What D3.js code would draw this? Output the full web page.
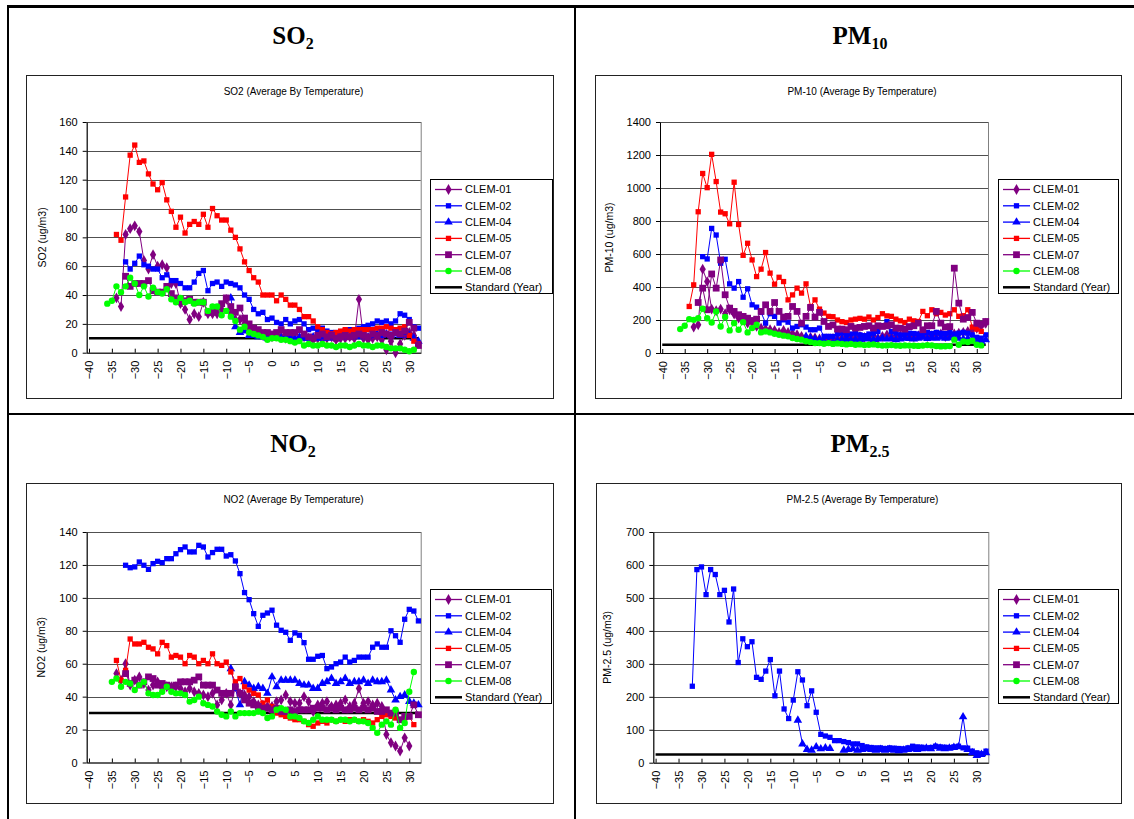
<!DOCTYPE html>
<html>
<head>
<meta charset="utf-8">
<script src="https://cdn.jsdelivr.net/npm/d3@7"></script>
<style>
body { margin: 0; background: #fff; }
svg { display: block; font-family: "Liberation Sans", Arial, sans-serif; }
.title { font-family: "Liberation Serif", "Times New Roman", serif; font-weight: bold; font-size: 25px; }
</style>
</head>
<body>
<svg id="page" width="1134" height="819"></svg>
<script>
const _ = null;

// categories (temperature, deg C) used by every series below
const temps = [-36,-35,-34,-33,-32,-31,-30,-29,-28,-27,-26,-25,-24,-23,-22,-21,-20,-19,-18,-17,-16,-15,-14,-13,-12,-11,-10,-9,-8,-7,-6,-5,-4,-3,-2,-1,0,1,2,3,4,5,6,7,8,9,10,11,12,13,14,15,16,17,18,19,20,21,22,23,24,25,26,27,28,29,30,31,32];
const xTicks = [-40,-35,-30,-25,-20,-15,-10,-5,0,5,10,15,20,25,30];
const seriesNames = ["CLEM-01","CLEM-02","CLEM-04","CLEM-05","CLEM-07","CLEM-08"];

// SO2
const so2Ticks = [0,20,40,60,80,100,120,140,160];
const so2Std = 10;
const so2_01 = [_,_, 38,32,82,86,88,84,64,58,68,60, 61,59,48,48,34,30,23,27,25,35, 27,27,27,30,37,27,23,23,20,17, 14,13,12,11,11,12,11,10,11,9, 10,11,10,9,10,9,10,11,9,10, 10,11,10,37,10,9,10,11,9,2, 8,0,6,12,14,12, _];
const so2_02 = [_,_,_,_, 63,58,62,67,61,60,58,58,52,54, 50,50,48,45,45,49,55,57,43,48, 49,46,49,48,47,45,40,37,30,27, 28,23,24,21,20,23,20,22,23,20, 16,17,15,17,15,14,14,14,15,16, 16,17,18,19,20,22,21,22,20,22, 27,26,23,18,17];
const so2_04 = [_,_,_,_,_,_,_,_,_,_, _,_,_,_,_,_,_,_,_,_, _,_,_,_,_,_,_, 38,18,14,15,12,12,11,11,10,10, 11,10,11,10,10,11,10,10,11,10, 11,10,11,10,11,12,11,12,11,12, 11,12,13,12,13,12,13,12,14,12, 10,8];
const so2_05 = [_,_, 82,78,108,137,144,132,133,124,117,113, 118,106,98,87,94,83,89,91,89,96, 87,100,95,92,92,85,80,72,63,57, 52,49,40,40,40,36,40,37,33,33, 30,25,25,22,18,16,14,13,14,15, 16,15,16,16,16,16,16,17,17,18, 17,16,17,18,12,8,6];
const so2_07 = [_,_,_,_, 53,46,48,48,48,50,43,42,42,46, 41,38,37,36,37,35,35,35,28,28, 30,34,38,32,28,31,24,20,17,16, 14,14,13,14,16,14,14,14,16,13, 11,10,12,13,11,12,10,11,12,11, 12,13,12,11,13,12,14,13,12,14, 13,15,21,17,5];
const so2_08 = [34,36,46,42,46,52,48,40,46,39, 45,42,41,44,37,35,38,35,36,34, 35,35,29,32,32,26,29,25,22,16, 18,14,13,12,11,9,10,10,9,9, 8,7,8,5,6,5,5,6,5,5, 4,5,5,4,5,6,5,5,4,5, 5,4,3,3,3,2,1,2, _];

// PM10
const pm10Ticks = [0,200,400,600,800,1000,1200,1400];
const pm10Std = 50;
const pm10_01 = [_,_,_, 157,171,508,433,266,256,266,238,262,236, 211,201,181,185,161,151,145,141,137,125, 137,125,117,111,101,91,95,91,85,81, 85,88,85,90,95,88,92,100,95,98, 105,90,100,110,100,95,105,110,100,98, 105,110,100,105,110,115,100,105,115,120, 125,130,140,150,165,180];
const pm10_02 = [_,_,_,_,_, 584,570,755,715,544,568,419,393,433,338, 389,292,278,246,181,238,222,181,201,187, 151,161,171,157,141,141,151,101,101,100, 115,120,110,115,120,110,105,115,120,130, 165,190,130,120,110,115,120,118,115,120, 125,118,125,120,118,125,115,120,125,120, 110,95,90,110];
const pm10_04 = [_,_,_,_,_,_,_,_,_,_, _,_,_,_,_,_,_,_,_,_, _,_,_,_,_,_,_,_, 100,90,85,80,70,65,60,75,80,85, 78,82,80,85,88,82,85,90,85,88, 80,85,90,88,85,90,95,88,92,90, 95,90,92,95,90,85,88,80,75,70, 80];
const pm10_05 = [_,_, 282,413,856,1088,1002,1204,1039,854,844,783, 1035,779,592,665,564,463,508,609,484,417, 459,433,322,352,393,363,419,282,322,266, 242,222,220,200,190,185,200,205,210,205, 218,200,215,238,225,222,205,195,185,205, 195,191,252,226,262,238,246,230,238,262, 222,226,262,157,145,131, _];
const pm10_07 = [_,_,_,_, 306,393,262,479,393,564,353,272,252,232, 222,211,197,205,252,292,252,306,252,218, 222,282,252,181,222,276,218,246,191,161, 170,145,145,141,161,151,155,161,165,151, 165,161,165,171,151,150,145,160,165,181, 141,165,165,252,181,157,160,514,302,205, 215,246,181,175,191];
const pm10_08 = [145,165,205,201,211,268,211,185,252,161, 218,137,181,141,187,125,151,171,125,131, 125,117,111,105,101,91,85,81,71,66, 60,60,56,60,55,58,55,52,55,50, 52,48,50,52,48,45,46,48,45,44, 46,45,44,43,45,48,46,42,40,41, 42,81,50,70,66,75,50,46, _];

// NO2
const no2Ticks = [0,20,40,60,80,100,120,140];
const no2Std = 30;
const no2_01 = [_,_, 54,50,60,47,50,52,48,44,47,49, 45,46,46,46,45,43,45,43,42,41, 40,42,35,38,42,35,46,42,41,40, 37,35,35,34,34,37,38,41,37,36, 36,40,37,31,35,36,37,34,35,36, 38,34,36,45,36,37,35,36,34,17, 12,10,7,15,10, _,_];
const no2_02 = [_,_,_,_, 119.8,118.3,118.8,121.8,119.8,117.3,120.8,122.2,121.4,123.8, 123.8,126.8,129.3,130.9,127.9,127.9,131.9,130.9,124.8,127.5, 129.5,129.5,125.4,126.2,122.4,114.7,103.2,98.9,90.4,82.7, 89.4,90.8,92.5,83.4,80.3,79.1,74.2,78.7,77.3,72.8, 62.7,62.7,64.5,65,57,58,60,61,64,61, 62,64,64,64,70,72,70,70,80,77, 73,87,93,92,86];
const no2_04 = [_,_,_,_,_,_,_,_,_,_, _,_,_,_,_,_,_,_,_,_, _,_,_,_,_,_,_, 57,45,35,49,47,45,46,45,42,52, 46,50,50,50,50,48,47,47,45,45, 48,49,51,48,49,51,48,49,49,50, 48,50,49,49,50,44,38,40,41,37, 36,35];
const no2_05 = [_,_, 62,50,56,75,72,72,73,70,69,66, 73,71,64,65,64,60,65,64,60,62, 60,66,60,59,61,55,49,51,46,44, 42,41,36,38,34,30,29,28,27,26, 26,25,23,22,24,25,24,26,25,26, 25,26,26,25,26,25,24,26,28,29, 28,27,26,27,28,23, _];
const no2_07 = [_,_,_,_, 54,48,50,47,49,52,51,47,48,47, 46,47,49,49,49,50,52,47,47,47, 44,42,42,42,46,42,38,36,35,34, 33,33,32,33,31,31,32,31,32,32, 32,33,33,33,32,33,32,33,32,32, 33,32,33,32,33,31,31,32,30,30, 26,28,28,35,29];
const no2_08 = [_, 49,51,46,49,48,44,47,49,42,41, 41,43,46,43,42,42,41,37,38,40, 36,35,34,31,29,28,31,28,30,30, 30,30,31,30,27,28,32,33,32,28, 28,27,25,24,26,28,26,26,26,25, 26,26,25,26,25,25,24,21,18,23, 25,23,32,21,24,43,55, _];

// PM2.5 (only CLEM-02 and CLEM-04 report)
const pm25Ticks = [0,100,200,300,400,500,600,700];
const pm25Std = 25;
const pm25_02 = [_,_,_,_, 232,586,594,510,586,571,510,523,427,527, 304,376,352,367,259,253,278,313,203,278, 163,134,190,276,251,173,218,153,86,81, 77,67,67,64,61,57,57,52,48,46, 45,45,43,45,44,43,42,45,50,48, 47,45,46,50,48,47,46,48,50,45, 44,35,30,27,35];
const pm25_04 = [_,_,_,_,_,_,_,_,_,_, _,_,_,_,_,_,_,_,_,_, _,_,_,_,_,_,_, 129,57,40,38,48,42,45,43,_,_, 38,40,42,38,40,42,40,38,40,38, 40,38,36,38,40,42,40,42,44,42, 48,44,42,44,46,48,139,40,30,22, 25,30];

const styles = [
  { color: "#800080", shape: d3.symbolDiamond, size: 34 },
  { color: "#0000ff", shape: d3.symbolSquare, size: 28 },
  { color: "#0000ff", shape: d3.symbolTriangle, size: 32 },
  { color: "#ff0000", shape: d3.symbolSquare, size: 28 },
  { color: "#800080", shape: d3.symbolSquare, size: 46 },
  { color: "#00ff00", shape: d3.symbolCircle, size: 32 }
];

const svg = d3.select("#page");

// table frame
svg.append("line").attr("x1", 7).attr("x2", 1134).attr("y1", 6.5).attr("y2", 6.5).attr("stroke", "#000").attr("stroke-width", 3);
svg.append("line").attr("x1", 8).attr("x2", 8).attr("y1", 5).attr("y2", 819).attr("stroke", "#000").attr("stroke-width", 2);
svg.append("line").attr("x1", 575).attr("x2", 575).attr("y1", 5).attr("y2", 819).attr("stroke", "#000").attr("stroke-width", 2);
svg.append("line").attr("x1", 7).attr("x2", 1134).attr("y1", 414).attr("y2", 414).attr("stroke", "#000").attr("stroke-width", 2);

function drawTitle(cx, cy, main, sub) {
  const t = svg.append("text").attr("class", "title").attr("x", cx).attr("y", cy).attr("text-anchor", "middle");
  t.append("tspan").text(main);
  t.append("tspan").attr("dy", 5).style("font-size", "16px").text(sub);
}

function drawPanel(p) {
  const [bx, by, bw, bh] = p.box;
  const [px, py, pw, ph] = p.plot;
  const g = svg.append("g").attr("transform", "translate(" + bx + "," + by + ")");
  g.append("rect").attr("x", 0.5).attr("y", 0.5).attr("width", bw).attr("height", bh)
    .attr("fill", "#fff").attr("stroke", "#222");
  g.append("text").attr("x", bw / 2 + 4).attr("y", 20).attr("text-anchor", "middle")
    .style("font-size", "10px").text(p.sub);

  const x = d3.scaleLinear().domain([-40.5, 32.5]).range([0, pw]);
  const y = d3.scaleLinear().domain([0, p.yTicks[p.yTicks.length - 1]]).range([ph, 0]);
  const pg = g.append("g").attr("transform", "translate(" + px + "," + py + ")");

  pg.append("rect").attr("x", 0.5).attr("y", 0.5).attr("width", pw).attr("height", ph)
    .attr("fill", "#fff").attr("stroke", "#808080");

  // gridlines
  pg.selectAll(".grid").data(p.yTicks.slice(1)).enter().append("line")
    .attr("class", "grid")
    .attr("x1", 0).attr("x2", pw)
    .attr("y1", d => Math.round(y(d)) + 0.5).attr("y2", d => Math.round(y(d)) + 0.5)
    .attr("stroke", "#505050");

  // X Axis
  const xa = pg.append("g").attr("transform", "translate(0," + ph + ")")
    .call(d3.axisBottom(x).tickValues(xTicks).tickSizeInner(-4).tickSizeOuter(0));
  xa.select(".domain").attr("stroke", "#000");
  xa.selectAll("text")
    .attr("transform", "rotate(-90)")
    .attr("x", -8).attr("y", 0).attr("dy", "0.35em")
    .style("text-anchor", "end")
    .style("font-size", "11px")
    .style("font-family", "'Liberation Sans', Arial, sans-serif");

  // Y Axis
  const ya = pg.append("g")
    .call(d3.axisLeft(y).tickValues(p.yTicks).tickSize(4).tickSizeOuter(0).tickPadding(5).tickFormat(d3.format("d")));
  ya.select(".domain").attr("stroke", "#000");
  ya.selectAll("text").style("font-size", "11px")
    .style("font-family", "'Liberation Sans', Arial, sans-serif");

  pg.append("text")
    .attr("transform", "translate(" + p.yLabelX + "," + (ph / 2) + ") rotate(-90)")
    .attr("text-anchor", "middle").style("font-size", "10.5px").text(p.yLabel);

  // Standard line
  pg.append("line")
    .attr("x1", x(-40)).attr("x2", x(32))
    .attr("y1", y(p.std)).attr("y2", y(p.std))
    .attr("stroke", "#000").attr("stroke-width", 2.5);

  const line = d3.line()
    .defined(d => d.v != null)
    .x(d => x(d.t)).y(d => y(d.v));

  p.series.forEach((vals, i) => {
    if (!vals) return;
    const st = styles[i];
    const pts = temps.map((t, k) => ({ t: t, v: vals[k] }));
    pg.append("path").datum(pts)
      .attr("fill", "none").attr("stroke", st.color).attr("stroke-width", 1)
      .attr("d", line);
    pg.selectAll(".m" + i).data(pts.filter(d => d.v != null)).enter().append("path")
      .attr("class", "m" + i)
      .attr("transform", d => "translate(" + x(d.t) + "," + y(d.v) + ")")
      .attr("d", d3.symbol().type(st.shape).size(st.size))
      .attr("fill", st.color);
  });

  // Legend
  const [lx, ly, lw, lh] = p.legend;
  const lg = g.append("g").attr("transform", "translate(" + lx + "," + ly + ")");
  lg.append("rect").attr("x", 0.5).attr("y", 0.5).attr("width", lw).attr("height", lh)
    .attr("fill", "#fff").attr("stroke", "#000");
  seriesNames.forEach((name, i) => {
    const st = styles[i];
    const yy = 10.5 + i * 16.3;
    lg.append("line").attr("x1", 5).attr("x2", 32).attr("y1", yy).attr("y2", yy)
      .attr("stroke", st.color).attr("stroke-width", 1.3);
    lg.append("path").attr("transform", "translate(18.5," + yy + ")")
      .attr("d", d3.symbol().type(st.shape).size(st.size)).attr("fill", st.color);
    lg.append("text").attr("x", 35).attr("y", yy).attr("dy", "0.35em")
      .style("font-size", "11px").text(name);
  });
  const ys = 10.5 + 6 * 16.3;
  lg.append("line").attr("x1", 5).attr("x2", 32).attr("y1", ys).attr("y2", ys)
    .attr("stroke", "#000").attr("stroke-width", 2.5);
  lg.append("text").attr("x", 35).attr("y", ys).attr("dy", "0.35em")
    .style("font-size", "11px").text("Standard (Year)");
}

drawTitle(293, 44, "SO", "2");
drawTitle(860, 44, "PM", "10");
drawTitle(293, 452, "NO", "2");
drawTitle(860, 452, "PM", "2.5");

drawPanel({
  box: [26, 75, 527, 323], plot: [60.7, 47, 334, 230.7], legend: [404, 104, 122, 114],
  sub: "SO2 (Average By Temperature)", yLabel: "SO2 (ug/m3)", yLabelX: -41,
  yTicks: so2Ticks, std: so2Std,
  series: [so2_01, so2_02, so2_04, so2_05, so2_07, so2_08]
});
drawPanel({
  box: [595, 75, 526, 323], plot: [65, 47, 328, 231], legend: [403, 104, 120, 114],
  sub: "PM-10 (Average By Temperature)", yLabel: "PM-10 (ug/m3)", yLabelX: -47,
  yTicks: pm10Ticks, std: pm10Std,
  series: [pm10_01, pm10_02, pm10_04, pm10_05, pm10_07, pm10_08]
});
drawPanel({
  box: [26, 483, 527, 320], plot: [60.7, 49, 334, 230.5], legend: [404, 106, 121, 114],
  sub: "NO2 (Average By Temperature)", yLabel: "NO2 (ug/m3)", yLabelX: -42,
  yTicks: no2Ticks, std: no2Std,
  series: [no2_01, no2_02, no2_04, no2_05, no2_07, no2_08]
});
drawPanel({
  box: [596, 483, 525, 320], plot: [57.3, 49, 335, 230.7], legend: [402, 106, 120, 114],
  sub: "PM-2.5 (Average By Temperature)", yLabel: "PM-2.5 (ug/m3)", yLabelX: -42,
  yTicks: pm25Ticks, std: pm25Std,
  series: [null, pm25_02, pm25_04, null, null, null]
});
</script>
</body>
</html>
